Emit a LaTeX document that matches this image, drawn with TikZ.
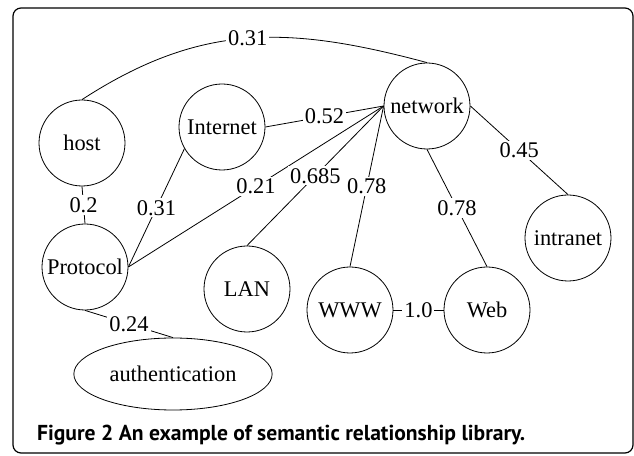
\documentclass[tikz,border=0pt]{standalone}
\usepackage{fontspec}
\setmainfont{Liberation Serif}
\newfontfamily\capfont{PT Sans}
\usetikzlibrary{shapes.geometric}

\begin{document}
\begin{tikzpicture}[x=0.5pt, y=0.5pt, thin,
        font=\fontsize{11.2}{13}\selectfont,
        term/.style={circle, draw, minimum size=43pt, inner sep=0pt},
        weight/.style={midway, fill=white, inner sep=1pt}]
        \useasboundingbox (0,0) rectangle (634,456);
        \draw [rounded corners=4pt, line width=0.6pt] (13,3) rectangle (633,448);

        \node (host) [term] at (82,313) {host};
        \node (protocol) [term, below of=host, node distance=62pt, xshift=1.5pt] {Protocol};
        \node (internet) [term] at (222,329) {Internet};
        \node (network) [term] at (427,350) {network};
        \node (lan) [term] at (247,167) {LAN};
        \node (www) [term] at (350,146) {WWW};
        \node (web) [term, right of=www, node distance=68.5pt] {Web};
        \node (intranet) [term] at (568,218) {intranet};
        \node (auth) [ellipse, draw, minimum width=96pt, minimum height=36pt] at (173,82) {authentication};

        \draw (host.south) -- (protocol.north) node [weight] {0.2};
        \draw (internet.210) -- (protocol.east) node [weight] {0.31};
        \draw (protocol.south) -- (auth.north) node [weight] {0.24};

        % everything that meets network on its left side
        \draw (internet.east) -- (network.west) node [weight] {0.52};
        \draw (protocol.east) -- (network.west) node [weight] {0.21};
        \draw (lan.north) -- (network.west) node [weight] {0.685};
        \draw (www.north) -- (network.west) node [weight] {0.78};

        \draw (network.south) -- (web.north) node [weight] {0.78};
        \draw (network.east) -- (intranet.north) node [weight] {0.45};
        \draw (www.east) -- (web.west) node [weight] {1.0};

        % the long arc over the top
        \draw (host.north) to [out=33, in=165, looseness=1.05] node [weight] {0.31} (network.north);

        \node (caption) [anchor=base west, font=\capfont\bfseries\fontsize{10.8}{13}\selectfont] at (30,15)
            {Figure 2 An example of semantic relationship library.};
    \end{tikzpicture}
\end{document}
